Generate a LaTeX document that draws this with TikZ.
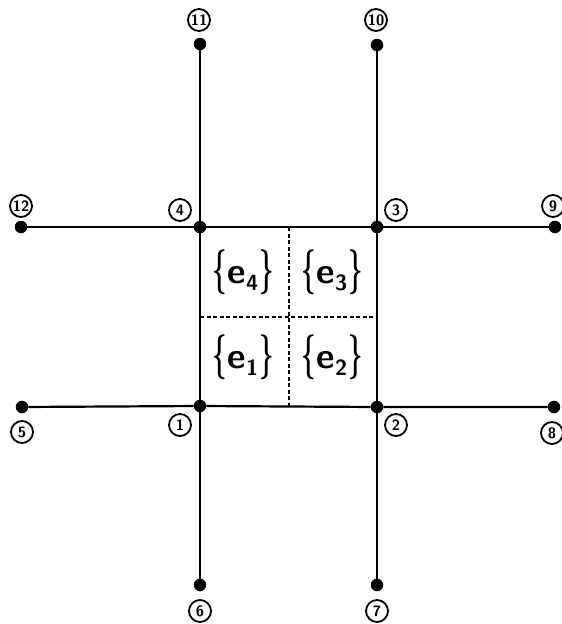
\documentclass[tikz,border=0pt]{standalone}
\usepackage{graphicx}
\begin{document}
\begin{tikzpicture}[x=1pt,y=-1pt,
  dot/.style={circle,fill=black,inner sep=0pt,minimum size=12.5pt},
  lab/.style={circle,draw,line width=1.8pt,inner sep=0pt,minimum size=22pt,font=\sffamily\bfseries\fontsize{15}{15}\selectfont},
  edge/.style={line width=2.2pt},
  dsh/.style={line width=1.8pt,dash pattern=on 4pt off 2.5pt},
  elab/.style={inner sep=0pt,font=\sffamily\bfseries\fontsize{36}{36}\selectfont}]
\useasboundingbox (0,0) rectangle (562,624);
% dots
\node[dot] (n1) at (200,406) {};
\node[dot] (n2) at (377,407) {};
\node[dot] (n3) at (377,227) {};
\node[dot] (n4) at (200,227) {};
\node[dot] (n5) at (22,407) {};
\node[dot] (n6) at (200,585) {};
\node[dot] (n7) at (377,585) {};
\node[dot] (n8) at (554,407) {};
\node[dot] (n9) at (555,227) {};
\node[dot] (n10) at (377,45) {};
\node[dot] (n11) at (200,44) {};
\node[dot] (n12) at (21,227) {};
% labels
\node[lab] (l1) at (180,425) {1};
\node[lab] (l2) at (396,425) {2};
\node[lab] (l3) at (396,210) {3};
\node[lab] (l4) at (180,210) {4};
\node[lab] (l5) at (22,432) {5};
\node[lab] (l6) at (200,611) {6};
\node[lab] (l7) at (377,611) {7};
\node[lab] (l8) at (552,433) {8};
\node[lab] (l9) at (553,206) {9};
\node[lab] (l10) at (376,20) {10};
\node[lab] (l11) at (199,20) {11};
\node[lab] (l12) at (21,206) {12};
% edges
\draw[edge] (n12) -- (n4) -- (n3) -- (n9);
\draw[edge] (n5) -- (n1) -- (n2) -- (n8);
\draw[edge] (n11) -- (n4) -- (n1) -- (n6);
\draw[edge] (n10) -- (n3) -- (n2) -- (n7);
% dashed internal lines
\coordinate (dt) at (289,227);
\coordinate (db) at (289,407);
\coordinate (dl) at (200,317);
\coordinate (dr) at (377,317);
\draw[dsh] (dt) -- (db);
\draw[dsh] (dl) -- (dr);
% element labels
\newcommand{\elem}[1]{\scalebox{0.7}[1.25]{\{}\kern1pt e\raisebox{-7pt}{\fontsize{22}{22}\selectfont #1}\kern1pt\scalebox{0.7}[1.25]{\}}}
\node[elab] (e4) at (243,272) {\elem{4}};
\node[elab] (e3) at (332,272) {\elem{3}};
\node[elab] (e1) at (243,357) {\elem{1}};
\node[elab] (e2) at (332,357) {\elem{2}};
\end{tikzpicture}
\end{document}
